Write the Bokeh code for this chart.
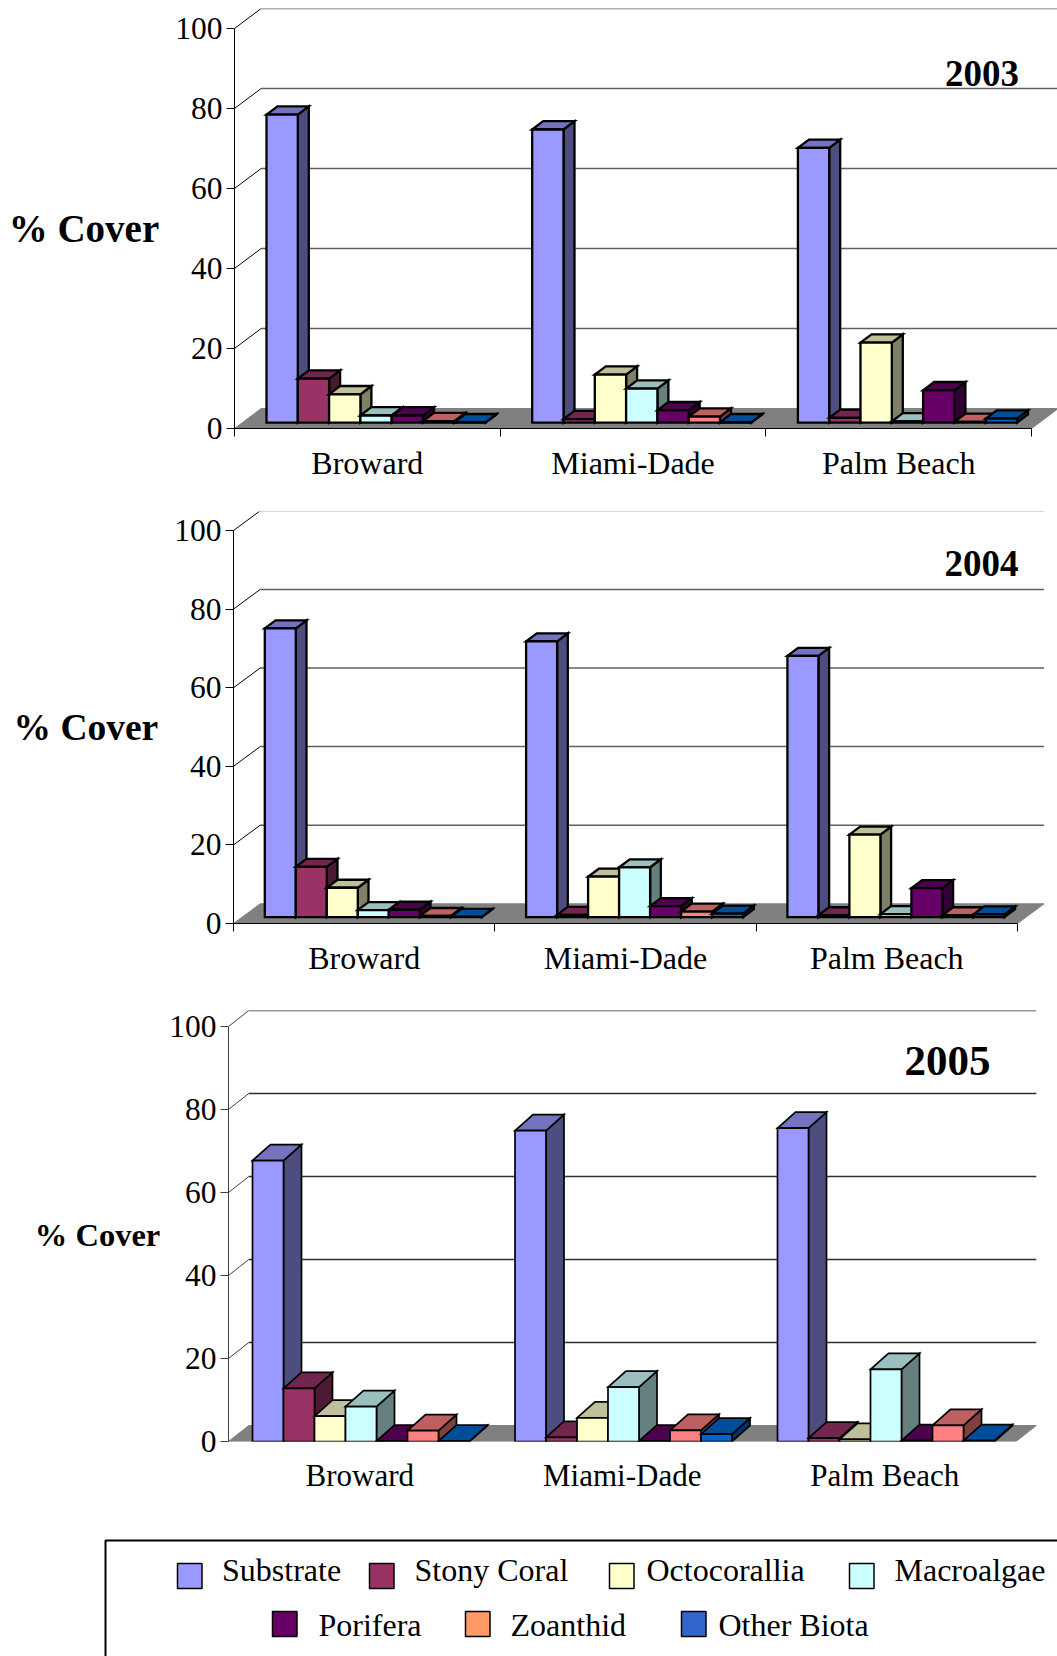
from bokeh.core.properties import value
from bokeh.embed import file_html
from bokeh.layouts import column
from bokeh.models import FixedTicker, Range1d
from bokeh.plotting import figure
from bokeh.resources import INLINE

counties = ["Broward", "Miami-Dade", "Palm Beach"]
groups = ["Substrate", "Stony Coral", "Octocorallia", "Macroalgae", "Porifera", "Zoanthid", "Other Biota"]
y_ticks = [0, 20, 40, 60, 80, 100]

# Percent cover per county, in the order of `groups`
broward_2003 = [77.0, 11.0, 7.1, 1.8, 1.8, 0.4, 0.1]
miami_2003 = [73.3, 0.9, 12.0, 8.5, 3.1, 1.5, 0.1]
palm_2003 = [68.7, 1.2, 20.0, 0.3, 8.1, 0.2, 1.0]

broward_2004 = [73.5, 12.8, 7.5, 1.8, 1.9, 0.3, 0.1]
miami_2004 = [70.2, 0.6, 10.3, 12.7, 2.8, 1.4, 0.9]
palm_2004 = [66.5, 0.5, 21.0, 0.8, 7.4, 0.5, 0.7]

broward_2005 = [67.7, 12.8, 6.1, 8.4, 0.1, 2.6, 0.1]
miami_2005 = [74.9, 1.0, 5.7, 13.1, 0.1, 2.7, 1.8]
palm_2005 = [75.5, 0.8, 0.5, 17.4, 0.2, 3.9, 0.2]

SERIF = "Liberation Serif"

# front, top and side shades of each bar series
front_colors = ["#9999FF", "#993366", "#FFFFCC", "#CCFFFF", "#660066", "#FF8080", "#0066CC"]
top_colors = ["#7373BF", "#73264D", "#BFBF99", "#99BFBF", "#4D004D", "#BF6060", "#004D99"]
side_colors = ["#4D4D80", "#4D1A33", "#808066", "#668080", "#330033", "#804040", "#003366"]
legend_colors = ["#9999FF", "#993366", "#FFFFCC", "#CCFFFF", "#660066", "#FF9966", "#3366CC"]


def panel(year, rows, height, left, top, frame_h, cat_w, px_per_unit, wall_dx, wall_dy,
          bar_left, bar_w, bar_lift, bar_dx, bar_dy, line_w, grid_color, axis_color,
          show_x_axis, tick_font, cat_font, label_font, label_drop, label_standoff, cat_standoff,
          title_x, title_base, title_font):
    frame_w = 1057 - left
    bottom = height - top - frame_h
    p = figure(width=1057, height=height, output_backend="svg", toolbar_location=None,
               x_range=Range1d(0, frame_w / cat_w), y_range=Range1d(0, frame_h / px_per_unit),
               min_border_left=left, min_border_right=0, min_border_top=top, min_border_bottom=bottom,
               frame_align=False)
    p.grid.visible = False
    p.outline_line_color = None
    p.background_fill_color = "white"

    ux = 1 / cat_w
    uy = 1 / px_per_unit
    dx, dy = wall_dx * ux, wall_dy * uy
    n = len(counties)
    zero_px = top + frame_h

    # floor of the chart box
    p.patch([0, n, n + dx, dx], [0, 0, dy, dy], fill_color="#808080", line_color="#808080", line_width=1)

    # gridlines run back along the left wall and across the rear wall
    wall_ticks = [t for t in y_ticks if t > 0]
    p.multi_line([[dx, n + dx] for t in wall_ticks], [[t + dy, t + dy] for t in wall_ticks],
                 line_color=grid_color, line_width=1.5)
    p.multi_line([[0, dx] for t in wall_ticks], [[t, t + dy] for t in wall_ticks],
                 line_color=axis_color, line_width=1)

    # Series are drawn left to right, so each bar covers the side of the one before it
    lift = bar_lift * uy
    for s in range(len(groups)):
        values = [row[s] for row in rows]
        x0 = [c + (bar_left - left + s * bar_w) * ux for c in range(n)]
        x1 = [x + bar_w * ux for x in x0]
        ddx, ddy = bar_dx * ux, bar_dy * uy
        tops = [v + lift for v in values]
        p.patches([[b, b + ddx, b + ddx, b] for b in x1],
                  [[lift, lift + ddy, t + ddy, t] for t in tops],
                  fill_color=side_colors[s], line_color="black", line_width=line_w, line_join="miter")
        p.patches([[a, a + ddx, b + ddx, b] for a, b in zip(x0, x1)],
                  [[t, t + ddy, t + ddy, t] for t in tops],
                  fill_color=top_colors[s], line_color="black", line_width=line_w, line_join="miter")
        p.quad(left=x0, right=x1, bottom=lift, top=tops,
               fill_color=front_colors[s], line_color="black", line_width=line_w, line_join="miter")

    # value axis; the blank first line of its title lowers "% Cover" below the frame's middle
    ya = p.yaxis[0]
    ya.ticker = FixedTicker(ticks=y_ticks)
    ya.bounds = (0, 100)
    ya.axis_line_color = axis_color
    ya.major_tick_line_color = axis_color
    ya.major_tick_out = 8
    ya.major_tick_in = 0
    ya.minor_tick_out = 0
    ya.minor_tick_in = 0
    ya.major_label_text_font = SERIF
    ya.major_label_text_font_size = f"{tick_font}px"
    ya.major_label_text_color = "black"
    ya.major_label_standoff = 4
    ya.axis_label = "\n% Cover"
    ya.axis_label_orientation = "horizontal"
    ya.axis_label_text_font = SERIF
    ya.axis_label_text_font_style = "bold"
    ya.axis_label_text_font_size = f"{label_font}px"
    ya.axis_label_text_color = "black"
    ya.axis_label_text_line_height = 2 * label_drop / label_font
    ya.axis_label_standoff = label_standoff

    # county axis: labels sit mid-category, ticks on the category boundaries
    xa = p.xaxis[0]
    xa.ticker = FixedTicker(ticks=[c + 0.5 for c in range(n)],
                            minor_ticks=list(range(n + 1)) if show_x_axis else [])
    xa.major_label_overrides = {c + 0.5: name for c, name in enumerate(counties)}
    xa.bounds = (0, n)
    xa.axis_line_color = "black" if show_x_axis else None
    xa.major_tick_line_color = None
    xa.minor_tick_line_color = "black" if show_x_axis else None
    xa.major_tick_out = 0
    xa.major_tick_in = 0
    xa.minor_tick_out = 8
    xa.minor_tick_in = 0
    xa.major_label_text_font = SERIF
    xa.major_label_text_font_size = f"{cat_font}px"
    xa.major_label_text_color = "black"
    xa.major_label_standoff = cat_standoff

    # year heading above the Palm Beach group
    p.text(x=[(title_x - left) * ux], y=[(zero_px - title_base) * uy], text=[year],
           text_font=value(SERIF), text_font_style="bold", text_font_size=f"{title_font}px",
           text_align="center", text_baseline="alphabetic", text_color="black")
    return p


p2003 = panel("2003", [broward_2003, miami_2003, palm_2003], height=490, left=234, top=8, frame_h=420,
              cat_w=265.7, px_per_unit=4.0, wall_dx=26.7, wall_dy=20,
              bar_left=266, bar_w=31.3, bar_lift=5.8, bar_dx=11, bar_dy=8.3, line_w=2.3,
              grid_color="#606060", axis_color="black", show_x_axis=True,
              tick_font=31.5, cat_font=32, label_font=39, label_drop=9, label_standoff=13, cat_standoff=8,
              title_x=981.5, title_base=73, title_font=37)

p2004 = panel("2004", [broward_2004, miami_2004, palm_2004], height=495, left=233, top=21, frame_h=412,
              cat_w=261.3, px_per_unit=3.93, wall_dx=26.7, wall_dy=19.7,
              bar_left=264.3, bar_w=31, bar_lift=6.3, bar_dx=10.7, bar_dy=8, line_w=2.3,
              grid_color="#606060", axis_color="black", show_x_axis=True,
              tick_font=31.5, cat_font=32, label_font=37.5, label_drop=9.5, label_standoff=13, cat_standoff=8,
              title_x=981, title_base=73, title_font=37)

p2005 = panel("2005", [broward_2005, miami_2005, palm_2005], height=545, left=228, top=25, frame_h=431,
              cat_w=262.5, px_per_unit=4.15, wall_dx=20.3, wall_dy=16,
              bar_left=252, bar_w=31, bar_lift=0, bar_dx=18, bar_dy=16, line_w=1.7,
              grid_color="#303030", axis_color="#404040", show_x_axis=False,
              tick_font=31.5, cat_font=31, label_font=32.5, label_drop=8.5, label_standoff=6, cat_standoff=16,
              title_x=947, title_base=75, title_font=43)

# Legend strip: its box runs off the right and bottom edges of the page
legend_p = figure(width=1057, height=126, output_backend="svg", toolbar_location=None,
                  x_range=Range1d(0, 1057), y_range=Range1d(126, 0),
                  min_border=0, x_axis_type=None, y_axis_type=None, frame_align=False)
legend_p.grid.visible = False
legend_p.outline_line_color = None
legend_p.line([105, 105, 1060], [130, 10, 10], line_color="black", line_width=2)

swatch_x = [177, 369, 609, 849, 272, 465, 681]
text_x = [221.5, 414, 646, 894, 318, 510, 718]
row_y = [0, 0, 0, 0, 1, 1, 1]
swatch_tops = [33, 81]
text_bases = [39.5, 94]
for name, color, sx, tx, r in zip(groups, legend_colors, swatch_x, text_x, row_y):
    legend_p.quad(left=sx, right=sx + 24.5, top=swatch_tops[r], bottom=swatch_tops[r] + 25,
                  fill_color=color, line_color="black", line_width=1.5)
    legend_p.text(x=[tx], y=[text_bases[r]], text=[name], text_font=value(SERIF),
                  text_font_size="32px", text_baseline="alphabetic", text_color="black")

page = column(p2003, p2004, p2005, legend_p, spacing=0)
open("out.html", "w").write(file_html(page, INLINE))
